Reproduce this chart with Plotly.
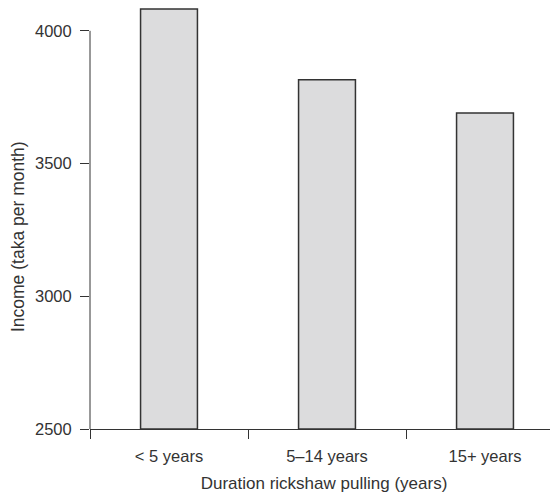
import plotly.graph_objects as go

categories = ["< 5 years", "5\u201314 years", "15+ years"]
income = [4082, 3816, 3690]
y_ticks = [2500, 3000, 3500, 4000]
baseline = 2500

font_family = "Liberation Sans, Arial, sans-serif"
axis_color = "#333333"
fsize = 16.5

fig = go.Figure(
    go.Bar(
        x=categories,
        y=[v - baseline for v in income],
        base=baseline,
        width=0.36,
        cliponaxis=False,
        marker=dict(color="#dcdcdd", line=dict(color="#333333", width=1.5)),
    )
)

fig.update_layout(
    width=550,
    height=488,
    margin=dict(l=82, r=0, t=0, b=67),
    paper_bgcolor="white",
    plot_bgcolor="white",
    showlegend=False,
    font=dict(family=font_family, size=fsize, color="#333333"),
    xaxis=dict(
        type="category",
        range=[-0.5, 2.5 - 6 / 158],
        showline=True,
        linecolor=axis_color,
        linewidth=1,
        ticks="outside",
        tickson="boundaries",
        ticklen=9,
        tickcolor=axis_color,
        tickwidth=1,
        showgrid=False,
        zeroline=False,
        tickfont=dict(size=fsize),
        ticklabelstandoff=12,
        title=dict(text="Duration rickshaw pulling (years)", font=dict(size=17), standoff=13),
        automargin=False,
    ),
    yaxis=dict(
        range=[2500, 4086],
        tickvals=y_ticks,
        ticktext=[str(v) for v in y_ticks],
        showline=False,
        ticks="outside",
        ticklen=9,
        tickcolor=axis_color,
        tickwidth=1,
        showgrid=False,
        zeroline=False,
        tickfont=dict(size=fsize),
        ticklabelstandoff=5,
        automargin=False,
    ),
    shapes=[
        dict(
            type="line",
            xref="paper",
            yref="y",
            x0=0,
            x1=0,
            y0=y_ticks[0],
            y1=y_ticks[-1],
            line=dict(color=axis_color, width=1),
        )
    ],
    annotations=[
        dict(
            text="Income (taka per month)",
            xref="paper",
            yref="paper",
            x=-0.1538,
            y=0.456,
            xanchor="center",
            yanchor="middle",
            textangle=-90,
            showarrow=False,
            font=dict(size=17.5),
        )
    ],
)

fig.write_html("out.html")
